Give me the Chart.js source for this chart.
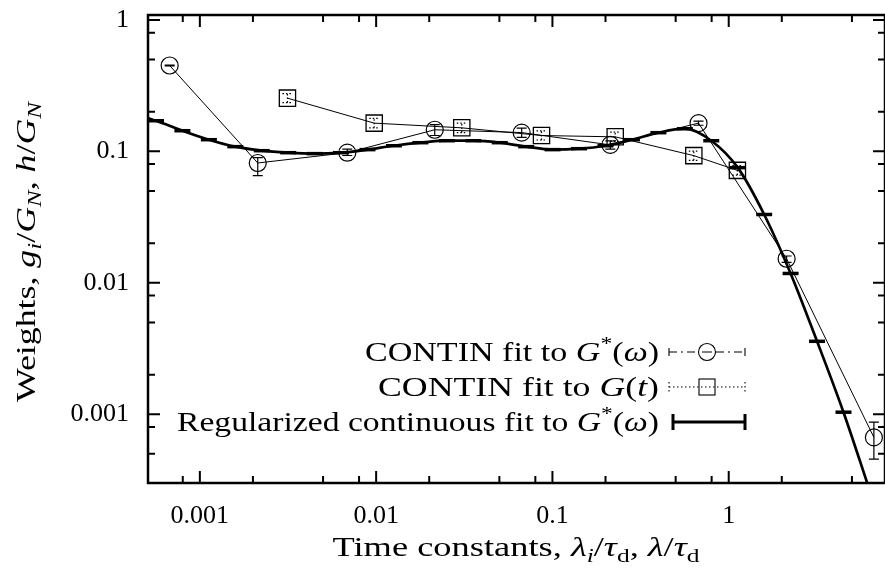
<!DOCTYPE html>
<html>
<head>
<meta charset="utf-8">
<script src="https://cdn.jsdelivr.net/npm/chart.js@4.4.0/dist/chart.umd.min.js"></script>
<style>
  html, body { margin: 0; padding: 0; background: #fff; }
  #weights-chart { display: block; }
</style>
</head>
<body>
<canvas id="weights-chart" width="885" height="568"></canvas>
<script>
// CONTIN fit to G*(w): time constants and weights, with error bar ends
const continOmegaLambda = [6.74e-4, 2.13e-3, 6.86e-3, 0.0215, 0.0669, 0.213, 0.674, 2.13, 6.66];
const continOmegaWeight = [0.450, 0.0816, 0.0977, 0.146, 0.139, 0.112, 0.164, 0.01524, 6.67e-4];
const continOmegaLow = [0.447, 0.0654, 0.0930, 0.132, 0.128, 0.104, 0.158, 0.0143, 4.56e-4];
const continOmegaHigh = [0.453, 0.0896, 0.1040, 0.160, 0.150, 0.120, 0.170, 0.0160, 8.7e-4];

// CONTIN fit to G(t)
const continTLambda = [3.14e-3, 9.75e-3, 0.0306, 0.0867, 0.227, 0.634, 1.12];
const continTWeight = [0.254, 0.164, 0.151, 0.132, 0.129, 0.0928, 0.0717];
const continTLow = [0.235, 0.151, 0.139, 0.122, 0.119, 0.0855, 0.0660];
const continTHigh = [0.275, 0.178, 0.164, 0.143, 0.140, 0.1005, 0.0778];

// Regularized continuous spectrum h(lambda)
const regLambda = [5.0e-4, 5.64e-4, 7.96e-4, 1.125e-3, 1.589e-3, 2.244e-3, 3.17e-3, 4.48e-3, 6.32e-3,
  8.93e-3, 0.01262, 0.01782, 0.02518, 0.03556, 0.05023, 0.0710, 0.1002, 0.1416, 0.2, 0.2825,
  0.399, 0.5636, 0.796, 1.125, 1.589, 2.244, 3.17, 4.477, 6.32];
const regWeight = [0.180, 0.171, 0.1436, 0.1227, 0.1086, 0.1012, 0.0977, 0.0961, 0.0977,
  0.1031, 0.1104, 0.1164, 0.1205, 0.1205, 0.1164, 0.1086, 0.1031, 0.1048, 0.1104, 0.1227,
  0.1387, 0.1487, 0.1205, 0.0752, 0.0331, 0.01178, 0.00359, 0.001037, 2.61e-4];

// axis ticks
const xMajorTicks = [0.001, 0.01, 0.1, 1];
const xTickLabels = ['0.001', '0.01', '0.1', '1'];
const xMinorTicks = [8e-4, 2e-3, 5e-3, 8e-3, 0.02, 0.05, 0.08, 0.2, 0.5, 0.8, 2, 5];
const yMajorTicks = [0.001, 0.01, 0.1, 1];
const yTickLabels = ['0.001', '0.01', '0.1', '1'];
const yMinorTicks = [5e-4, 8e-4, 2e-3, 5e-3, 8e-3, 0.02, 0.05, 0.08, 0.2, 0.5, 0.8];

const FONT = '"Liberation Serif", "DejaVu Serif", serif';
const SIZE = 26;   // tick labels
const TSIZE = 28;  // legend + axis titles

// small helper for text with italics / sub / superscripts, stretched to a given width
function fontFor(st, size) {
  const small = st === 'sub' || st === 'subi' || st === 'sup';
  const it = st === 'i' || st === 'subi' ? 'italic ' : '';
  return it + (small ? size * 0.7 : size) + 'px ' + FONT;
}
function shiftFor(st, size) {
  if (st === 'sub' || st === 'subi') return size * 0.22;
  if (st === 'sup') return -size * 0.38;
  return 0;
}
function drawRich(ctx, parts, x, y, align, size, target) {
  let w = 0;
  parts.forEach(([t, st]) => { ctx.font = fontFor(st, size); w += ctx.measureText(t).width; });
  const sx = target ? target / w : 1;
  ctx.save();
  ctx.translate(x, y);
  ctx.scale(sx, 1);
  let cx = align === 'right' ? -w : align === 'center' ? -w / 2 : 0;
  ctx.textAlign = 'left';
  ctx.textBaseline = 'alphabetic';
  ctx.fillStyle = '#000';
  parts.forEach(([t, st]) => {
    ctx.font = fontFor(st, size);
    ctx.fillText(t, cx, shiftFor(st, size));
    cx += ctx.measureText(t).width;
  });
  ctx.restore();
}

const legendRows = [
  [['CONTIN fit to ', 'r'], ['G', 'i'], ['*', 'sup'], ['(', 'r'], ['ω', 'i'], [')', 'r']],
  [['CONTIN fit to ', 'r'], ['G', 'i'], ['(', 'r'], ['t', 'i'], [')', 'r']],
  [['Regularized continuous fit to ', 'r'], ['G', 'i'], ['*', 'sup'], ['(', 'r'], ['ω', 'i'], [')', 'r']]
];
const legendWidths = [294, 281, 482];
const xTitle = [['Time constants, ', 'r'], ['λ', 'i'], ['i', 'subi'], ['/', 'r'], ['τ', 'i'], ['d', 'sub'],
  [', ', 'r'], ['λ', 'i'], ['/', 'r'], ['τ', 'i'], ['d', 'sub']];
const yTitle = [['Weights, ', 'r'], ['g', 'i'], ['i', 'subi'], ['/', 'r'], ['G', 'i'], ['N', 'subi'],
  [', ', 'r'], ['h', 'i'], ['/', 'r'], ['G', 'i'], ['N', 'subi']];

// error bars drawn through the scales
const errorBars = {
  id: 'errorBars',
  afterDatasetsDraw(chart) {
    const { ctx, chartArea: a, scales: { x, y } } = chart;
    ctx.save();
    ctx.beginPath();
    ctx.rect(a.left, a.top, a.right - a.left, a.bottom - a.top);
    ctx.clip();
    ctx.strokeStyle = '#000';
    ctx.lineWidth = 1.2;
    continOmegaLambda.forEach((lam, i) => {
      const px = x.getPixelForValue(lam);
      const lo = y.getPixelForValue(continOmegaLow[i]);
      const hi = y.getPixelForValue(continOmegaHigh[i]);
      ctx.beginPath();
      ctx.moveTo(px, lo); ctx.lineTo(px, hi);
      ctx.moveTo(px - 5, lo); ctx.lineTo(px + 5, lo);
      ctx.moveTo(px - 5, hi); ctx.lineTo(px + 5, hi);
      ctx.stroke();
    });
    ctx.setLineDash([1.5, 2]);
    continTLambda.forEach((lam, i) => {
      const px = x.getPixelForValue(lam);
      const lo = y.getPixelForValue(continTLow[i]);
      const hi = y.getPixelForValue(continTHigh[i]);
      ctx.beginPath();
      ctx.moveTo(px, lo); ctx.lineTo(px, hi);
      ctx.moveTo(px - 5, lo); ctx.lineTo(px + 5, lo);
      ctx.moveTo(px - 5, hi); ctx.lineTo(px + 5, hi);
      ctx.stroke();
    });
    ctx.restore();
  }
};

// gnuplot-like frame: inward ticks, legend, axis titles
const frame = {
  id: 'frame',
  afterDraw(chart) {
    const { ctx, chartArea: a, scales: { x, y } } = chart;
    ctx.save();
    ctx.strokeStyle = '#000';
    ctx.lineWidth = 2;
    const xt = (vals, len) => vals.forEach(v => {
      const px = x.getPixelForValue(v);
      ctx.beginPath();
      ctx.moveTo(px, a.bottom); ctx.lineTo(px, a.bottom - len);
      ctx.moveTo(px, a.top); ctx.lineTo(px, a.top + len);
      ctx.stroke();
    });
    const yt = (vals, len) => vals.forEach(v => {
      const py = y.getPixelForValue(v);
      ctx.beginPath();
      ctx.moveTo(a.left, py); ctx.lineTo(a.left + len, py);
      ctx.moveTo(a.right, py); ctx.lineTo(a.right - len, py);
      ctx.stroke();
    });
    xt(xMajorTicks, 12); xt(xMinorTicks, 7);
    yt(yMajorTicks, 12); yt(yMinorTicks, 7);
    ctx.lineWidth = 2.5;
    ctx.strokeRect(a.left, a.top, a.right - a.left, a.bottom - a.top);

    // legend
    const tx = a.right - 226, s0 = a.right - 216, s1 = a.right - 140, sm = (s0 + s1) / 2;
    const rows = [a.top + 337, a.top + 372, a.top + 407];
    legendRows.forEach((parts, i) => drawRich(ctx, parts, tx, rows[i] + 9, 'right', TSIZE, legendWidths[i]));

    ctx.lineWidth = 1.1;
    let ry = rows[0];
    ctx.setLineDash([8, 4, 2, 4]);
    ctx.beginPath(); ctx.moveTo(s0, ry); ctx.lineTo(sm - 9, ry); ctx.moveTo(sm + 9, ry); ctx.lineTo(s1, ry); ctx.stroke();
    ctx.setLineDash([]);
    ctx.beginPath();
    ctx.moveTo(s0, ry - 4); ctx.lineTo(s0, ry + 4);
    ctx.moveTo(s1, ry - 4); ctx.lineTo(s1, ry + 4);
    ctx.moveTo(sm - 5, ry); ctx.lineTo(sm + 5, ry);
    ctx.stroke();
    ctx.beginPath(); ctx.arc(sm, ry, 8.5, 0, Math.PI * 2); ctx.stroke();

    ry = rows[1];
    ctx.setLineDash([1.5, 2.5]);
    ctx.beginPath();
    ctx.moveTo(s0, ry); ctx.lineTo(s1, ry);
    ctx.moveTo(s0, ry - 5); ctx.lineTo(s0, ry + 5);
    ctx.moveTo(s1, ry - 5); ctx.lineTo(s1, ry + 5);
    ctx.stroke();
    ctx.setLineDash([]);
    ctx.strokeRect(sm - 8, ry - 8, 16, 16);

    ry = rows[2];
    ctx.lineWidth = 3;
    ctx.beginPath();
    ctx.moveTo(s0 + 4, ry - 8); ctx.lineTo(s0 + 4, ry + 8);
    ctx.moveTo(s0 + 4, ry); ctx.lineTo(s1, ry);
    ctx.moveTo(s1, ry - 8); ctx.lineTo(s1, ry + 8);
    ctx.stroke();

    // axis titles
    drawRich(ctx, xTitle, 516, 556, 'center', TSIZE, 367);
    ctx.save();
    ctx.translate(35, 252);
    ctx.rotate(-Math.PI / 2);
    drawRich(ctx, yTitle, 0, 0, 'center', TSIZE, 300);
    ctx.restore();
    ctx.restore();
  }
};

const ctx = document.getElementById('weights-chart').getContext('2d');
new Chart(ctx, {
  type: 'line',
  data: {
    datasets: [
      {
        label: 'CONTIN fit to G*(ω)',
        data: continOmegaLambda.map((l, i) => ({ x: l, y: continOmegaWeight[i] })),
        borderColor: '#000',
        borderWidth: 1,
        pointStyle: 'circle',
        pointRadius: 8.5,
        pointBorderWidth: 1.2,
        pointBorderColor: '#000',
        pointBackgroundColor: 'rgba(0,0,0,0)',
        tension: 0
      },
      {
        label: 'CONTIN fit to G(t)',
        data: continTLambda.map((l, i) => ({ x: l, y: continTWeight[i] })),
        borderColor: '#000',
        borderWidth: 1,
        pointStyle: 'rect',
        pointRadius: 11.5,
        pointBorderWidth: 1.3,
        pointBorderColor: '#000',
        pointBackgroundColor: 'rgba(0,0,0,0)',
        tension: 0
      },
      {
        label: 'Regularized continuous fit to G*(ω)',
        data: regLambda.map((l, i) => ({ x: l, y: regWeight[i] })),
        borderColor: '#000',
        borderWidth: 2.7,
        cubicInterpolationMode: 'monotone',
        pointStyle: 'line',
        pointRadius: c => (c.dataIndex === 0 || c.dataIndex === regLambda.length - 1 ? 0 : 8),
        pointBorderWidth: 3.5,
        pointBorderColor: '#000'
      }
    ]
  },
  options: {
    responsive: false,
    animation: false,
    layout: { autoPadding: false, padding: { top: 15, right: -3, left: 0, bottom: 0 } },
    plugins: { legend: { display: false }, tooltip: { enabled: false } },
    scales: {
      x: {
        type: 'logarithmic',
        min: 5.08e-4,
        max: 7.7,
        afterBuildTicks: s => { s.ticks = xMajorTicks.map(v => ({ value: v })); },
        afterFit: s => { s.height = 85; s.paddingLeft = 0; s.paddingRight = 0; },
        grid: { display: false },
        border: { display: false },
        ticks: {
          autoSkip: false,
          maxRotation: 0,
          padding: 10,
          color: '#000',
          font: { family: FONT, size: SIZE },
          callback: (v, i) => xTickLabels[i]
        }
      },
      y: {
        type: 'logarithmic',
        min: 3.05e-4,
        max: 1.09,
        afterBuildTicks: s => { s.ticks = yMajorTicks.map(v => ({ value: v })); },
        afterFit: s => { s.width = 148; s.paddingTop = 0; s.paddingBottom = 0; },
        grid: { display: false },
        border: { display: false },
        ticks: {
          autoSkip: false,
          padding: 11,
          color: '#000',
          font: { family: FONT, size: SIZE },
          callback: (v, i) => yTickLabels[i]
        }
      }
    }
  },
  plugins: [errorBars, frame]
});
</script>
</body>
</html>
